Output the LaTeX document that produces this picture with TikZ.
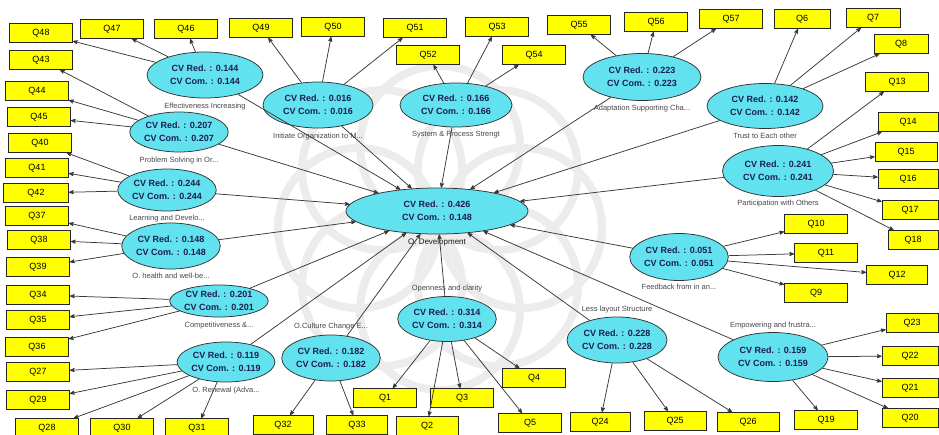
\documentclass[tikz,border=0pt]{standalone}
\usepackage{fontspec}
\setmainfont{Liberation Sans}
\usepackage{tikz}
\usetikzlibrary{arrows,shapes.geometric,positioning}

\definecolor{cvcyan}{RGB}{98,226,238}
\definecolor{cvtext}{RGB}{28,30,80}
\definecolor{itemyellow}{RGB}{255,255,0}

\begin{document}
\begin{tikzpicture}[x=1pt,y=-1pt,->,>=stealth',line width=0.75pt,
  construct/.style={ellipse,draw=black!80,fill=cvcyan,minimum width=100pt,minimum height=44pt,
    inner sep=0pt,align=center,text=cvtext,font=\bfseries\fontsize{9}{12.5}\selectfont},
  item/.style={rectangle,draw=black!85,fill=itemyellow,minimum width=63pt,minimum height=19pt,
    inner sep=0pt,font=\fontsize{9}{10}\selectfont},
  lbl/.style={inner sep=0pt,text=black!72,font=\fontsize{7.5}{9}\selectfont},
  every edge/.style={draw=black!78}]
  \useasboundingbox (0,0) rectangle (939,434);

  % faint watermark behind the model
  \foreach \a in {0,45,...,315}
    \draw[-,gray!15,line width=8pt,shift={(440,228)}] (\a:82) circle[radius=80];

  % indicators
  \node[item] (q48) at (41,33)  {Q48};
  \node[item] (q47) at (112,29) {Q47};
  \node[item] (q46) at (186,29) {Q46};
  \node[item] (q49) at (261,28) {Q49};
  \node[item] (q50) at (333,27) {Q50};
  \node[item] (q51) at (415,28) {Q51};
  \node[item] (q52) at (428,55) {Q52};
  \node[item] (q53) at (497,27) {Q53};
  \node[item] (q54) at (534,55) {Q54};
  \node[item] (q55) at (579,25) {Q55};
  \node[item] (q56) at (656,22) {Q56};
  \node[item] (q57) at (731,19) {Q57};
  \node[item,minimum width=56pt] (q6) at (802,19) {Q6};
  \node[item,minimum width=54pt] (q7) at (873,18) {Q7};
  \node[item,minimum width=54pt] (q8) at (901,44) {Q8};
  \node[item] (q13) at (897,82) {Q13};
  \node[item,minimum width=60pt] (q14) at (908,122) {Q14};
  \node[item,minimum width=62pt] (q15) at (906,152) {Q15};
  \node[item,minimum width=60pt] (q16) at (908,179) {Q16};
  \node[item,minimum width=56pt] (q17) at (910,210) {Q17};
  \node[item,minimum width=50pt] (q18) at (913,240) {Q18};
  \node[item] (q10) at (816,224) {Q10};
  \node[item] (q11) at (826,253) {Q11};
  \node[item,minimum width=61pt] (q12) at (897,275) {Q12};
  \node[item] (q9)  at (816,293) {Q9};
  \node[item,minimum width=52pt] (q23) at (912,323) {Q23};
  \node[item,minimum width=56pt] (q22) at (910,356) {Q22};
  \node[item,minimum width=56pt] (q21) at (910,388) {Q21};
  \node[item,minimum width=56pt] (q20) at (910,418) {Q20};
  \node[item] (q19) at (826,420) {Q19};
  \node[item,minimum width=62pt] (q26) at (748,422) {Q26};
  \node[item,minimum width=62pt] (q25) at (675,421) {Q25};
  \node[item,minimum width=60pt] (q24) at (600,422) {Q24};
  \node[item] (q5)  at (530,423) {Q5};
  \node[item] (q4)  at (534,378) {Q4};
  \node[item] (q3)  at (462,398) {Q3};
  \node[item] (q1)  at (385,398) {Q1};
  \node[item,minimum width=62pt] (q2) at (427,426) {Q2};
  \node[item,minimum width=61pt] (q33) at (357,425) {Q33};
  \node[item,minimum width=60pt] (q32) at (283,425) {Q32};
  \node[item] (q31) at (197,428) {Q31};
  \node[item] (q30) at (122,428) {Q30};
  \node[item] (q28) at (47,428)  {Q28};
  \node[item] (q29) at (38,400)  {Q29};
  \node[item] (q27) at (38,372)  {Q27};
  \node[item] (q36) at (37,347)  {Q36};
  \node[item] (q35) at (38,320)  {Q35};
  \node[item] (q34) at (38,295)  {Q34};
  \node[item] (q39) at (38,267)  {Q39};
  \node[item] (q38) at (39,240)  {Q38};
  \node[item] (q37) at (37,216)  {Q37};
  \node[item,minimum width=65pt] (q42) at (36,193) {Q42};
  \node[item] (q41) at (37,168)  {Q41};
  \node[item] (q40) at (40,143)  {Q40};
  \node[item] (q45) at (39,117)  {Q45};
  \node[item] (q44) at (37,91)   {Q44};
  \node[item] (q43) at (41,60)   {Q43};

  % constructs
  \node[construct,minimum width=182pt,minimum height=46pt] (dev) at (437,211) {CV Red. : 0.426\\CV Com. : 0.148};
  \node[construct,minimum width=116pt,minimum height=46pt] (eff) at (205,75) {CV Red. : 0.144\\CV Com. : 0.144};
  \node[construct,minimum width=110pt,minimum height=46pt] (init) at (318,105) {CV Red. : 0.016\\CV Com. : 0.016};
  \node[construct,minimum width=112pt] (sys) at (456,105) {CV Red. : 0.166\\CV Com. : 0.166};
  \node[construct,minimum width=118pt,minimum height=47pt] (adapt) at (642,77) {CV Red. : 0.223\\CV Com. : 0.223};
  \node[construct,minimum width=116pt,minimum height=45pt] (trust) at (765,106) {CV Red. : 0.142\\CV Com. : 0.142};
  \node[construct,minimum width=111pt,minimum height=51pt] (part) at (778,171) {CV Red. : 0.241\\CV Com. : 0.241};
  \node[construct,minimum width=94pt,minimum height=47pt] (feed) at (679,257) {CV Red. : 0.051\\CV Com. : 0.051};
  \node[construct,minimum width=110pt,minimum height=49pt] (empow) at (773,357) {CV Red. : 0.159\\CV Com. : 0.159};
  \node[construct,minimum width=100pt,minimum height=46pt] (layout) at (617,340) {CV Red. : 0.228\\CV Com. : 0.228};
  \node[construct,minimum width=96pt,minimum height=45pt] (open) at (447,319) {CV Red. : 0.314\\CV Com. : 0.314};
  \node[construct,minimum width=88pt,minimum height=46pt] (cult) at (331,358) {CV Red. : 0.182\\CV Com. : 0.182};
  \node[construct,minimum width=87pt,minimum height=40pt] (renew) at (226,362) {CV Red. : 0.119\\CV Com. : 0.119};
  \node[construct,minimum width=86pt,minimum height=32pt] (comp) at (219,301) {CV Red. : 0.201\\CV Com. : 0.201};
  \node[construct,minimum width=96pt,minimum height=46pt] (health) at (171,246) {CV Red. : 0.148\\CV Com. : 0.148};
  \node[construct,minimum width=93pt,minimum height=42pt] (learn) at (167,190) {CV Red. : 0.244\\CV Com. : 0.244};
  \node[construct,minimum width=98pt,minimum height=40pt] (solve) at (179,132) {CV Red. : 0.207\\CV Com. : 0.207};

  % construct names
  \node[lbl,below=4pt of dev,text=black!90,font=\fontsize{8}{9}\selectfont] (devname) {O. Development};
  \node[lbl,below=4pt of eff]    (effname)    {Effectiveness Increasing};
  \node[lbl,below=4pt of init]   (initname)   {Initiate Organization to M...};
  \node[lbl,below=4pt of sys]    (sysname)    {System \& Process Strengt};
  \node[lbl,below=4pt of adapt]  (adaptname)  {Adaptation Supporting Cha...};
  \node[lbl,below=4pt of trust]  (trustname)  {Trust to Each other};
  \node[lbl,below=3pt of part]   (partname)   {Participation with Others};
  \node[lbl,below=3pt of feed]   (feedname)   {Feedback from in an...};
  \node[lbl,above=3pt of empow]  (empowname)  {Empowering and frustra...};
  \node[lbl,above=3pt of layout] (layoutname) {Less layout Structure};
  \node[lbl,above=4pt of open]   (openname)   {Openness and clarity};
  \node[lbl,above=4pt of cult]   (cultname)   {O.Culture Change E...};
  \node[lbl,below=4pt of renew]  (renewname)  {O. Renewal (Adva...};
  \node[lbl,below=4pt of comp]   (compname)   {Competitiveness \&...};
  \node[lbl,below=3pt of health] (healthname) {O. health and well-be...};
  \node[lbl,below=3pt of learn]  (learnname)  {Learning and Develo...};
  \node[lbl,below=4pt of solve]  (solvename)  {Problem Solving in Or...};

  % outer model
  \path
(eff) edge (q48) (eff) edge (q47) (eff) edge (q46)
(init) edge (q49) (init) edge (q50) (init) edge (q51)
(sys) edge (q52) (sys) edge (q53) (sys) edge (q54)
(adapt) edge (q55) (adapt) edge (q56) (adapt) edge (q57)
(trust) edge (q6) (trust) edge (q7) (trust) edge (q8)
(part) edge (q13) (part) edge (q14) (part) edge (q15)
(part) edge (q16) (part) edge (q17) (part) edge (q18)
(feed) edge (q10) (feed) edge (q11) (feed) edge (q12) (feed) edge (q9)
(empow) edge (q23) (empow) edge (q22) (empow) edge (q21) (empow) edge (q20) (empow) edge (q19)
(layout) edge (q24) (layout) edge (q25) (layout) edge (q26)
(open) edge (q1) (open) edge (q2) (open) edge (q3) (open) edge (q4) (open) edge (q5)
(cult) edge (q32) (cult) edge (q33)
(renew) edge (q27) (renew) edge (q29) (renew) edge (q28) (renew) edge (q30) (renew) edge (q31)
(comp) edge (q34) (comp) edge (q35) (comp) edge (q36)
(health) edge (q37) (health) edge (q38) (health) edge (q39)
(learn) edge (q40) (learn) edge (q41) (learn) edge (q42)
(solve) edge (q43) (solve) edge (q44) (solve) edge (q45)
;

  % inner model
  \path
(eff) edge (dev) (init) edge (dev) (sys) edge (dev) (adapt) edge (dev)
(trust) edge (dev) (part) edge (dev) (feed) edge (dev) (empow) edge (dev)
(layout) edge (dev) (open) edge (dev) (cult) edge (dev) (renew) edge (dev)
(comp) edge (dev) (health) edge (dev) (learn) edge (dev) (solve) edge (dev)
;
\end{tikzpicture}
\end{document}
